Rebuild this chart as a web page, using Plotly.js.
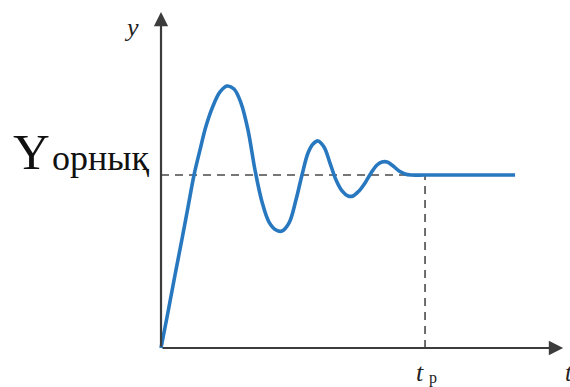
<!DOCTYPE html>
<html>
<head>
<meta charset="utf-8">
<script src="https://cdn.plot.ly/plotly-3.0.1.min.js"></script>
<style>
  html, body { margin: 0; padding: 0; background: #ffffff; }
  #chart { width: 570px; height: 387px; }
</style>
</head>
<body>
<div id="chart"></div>
<script>
// Step response of an under-damped system: time samples and output level
const timePts = [0, 0.265, 0.53, 0.795, 1.023, 1.25, 1.477, 1.705, 1.97, 2.235, 2.5, 2.765, 3.03, 3.295, 3.56, 3.826, 4.09, 4.356, 4.58, 4.85, 5.11, 5.34, 5.568, 5.758, 5.947, 6.174, 6.4, 6.63, 6.856, 7.083, 7.273, 7.5, 7.727, 7.955, 8.18, 8.37, 8.56, 8.79, 9.015, 9.24, 9.47, 10.0, 11.7, 13.41];
const outputPts = [0, 0.208, 0.422, 0.63, 0.815, 1.0, 1.145, 1.283, 1.399, 1.48, 1.514, 1.497, 1.416, 1.26, 1.029, 0.844, 0.728, 0.682, 0.676, 0.723, 0.855, 1.0, 1.127, 1.179, 1.197, 1.162, 1.069, 0.971, 0.908, 0.879, 0.879, 0.908, 0.954, 1.012, 1.058, 1.075, 1.075, 1.052, 1.023, 1.006, 1.0, 1.0, 1.0, 1.0];

// Steady-state level and settling time
const steadyLevel = 1.0;
const settlingTime = 10.0;

// Axis extents (arrow tips)
const tAxisEnd = 15.23;
const yAxisEnd = 1.942;

// Label texts
const yAxisLabel = '<i>y</i>';
const tAxisLabel = '<i>t</i>';
const steadySymbol = 'Y';
const steadySub = 'орнық';
const settleSymbol = '<i>t</i>';
const settleSub = 'р';

const axisColor = '#3c3c3c';
const dashColor = '#4a4a4a';
const serif = "'Liberation Serif', 'Times New Roman', serif";

const curve = {
  x: timePts,
  y: outputPts,
  type: 'scatter',
  mode: 'lines',
  line: { color: '#2878c0', width: 3.6, shape: 'spline', smoothing: 1.0 },
  hoverinfo: 'skip',
  showlegend: false
};

const layout = {
  width: 570,
  height: 387,
  margin: { l: 0, r: 0, t: 0, b: 0 },
  paper_bgcolor: '#ffffff',
  plot_bgcolor: '#ffffff',
  showlegend: false,
  xaxis: {
    range: [-6.098, 15.49],
    visible: false, showgrid: false, zeroline: false, fixedrange: true
  },
  yaxis: {
    range: [-0.2254, 2.0116],
    visible: false, showgrid: false, zeroline: false, fixedrange: true
  },
  shapes: [
    // steady-state level guide
    { type: 'line', layer: 'below', xref: 'x', yref: 'y',
      x0: 0, x1: settlingTime, y0: steadyLevel, y1: steadyLevel,
      line: { color: dashColor, width: 1.6, dash: '8px,6px' } },
    // settling time guide
    { type: 'line', layer: 'below', xref: 'x', yref: 'y',
      x0: settlingTime, x1: settlingTime, y0: 0, y1: steadyLevel,
      line: { color: dashColor, width: 1.6, dash: '8px,6px' } }
  ],
  annotations: [
    // horizontal axis with arrow
    { xref: 'x', yref: 'y', axref: 'x', ayref: 'y',
      x: tAxisEnd, y: 0, ax: 0, ay: 0, text: '',
      showarrow: true, arrowhead: 2, arrowsize: 1.3, arrowwidth: 2.2,
      arrowcolor: axisColor, standoff: 0, startstandoff: 0 },
    // vertical axis with arrow
    { xref: 'x', yref: 'y', axref: 'x', ayref: 'y',
      x: 0, y: yAxisEnd, ax: 0, ay: 0, text: '',
      showarrow: true, arrowhead: 2, arrowsize: 1.3, arrowwidth: 2.2,
      arrowcolor: axisColor, standoff: 0, startstandoff: 0 },
    // axis names
    { xref: 'x', yref: 'y', x: -1.1, y: 1.85, text: yAxisLabel,
      showarrow: false, xanchor: 'center', yanchor: 'middle',
      font: { family: serif, size: 26, color: '#222222' } },
    { xref: 'x', yref: 'y', x: 15.47, y: -0.139, text: tAxisLabel,
      showarrow: false, xanchor: 'center', yanchor: 'middle',
      font: { family: serif, size: 25, color: '#222222' } },
    // steady-state value label
    { xref: 'x', yref: 'y', x: -5.7, y: 1.133, text: steadySymbol,
      showarrow: false, xanchor: 'left', yanchor: 'middle',
      font: { family: serif, size: 51, color: '#111111' } },
    { xref: 'x', yref: 'y', x: -4.2, y: 1.1, text: steadySub,
      showarrow: false, xanchor: 'left', yanchor: 'middle',
      font: { family: serif, size: 36, color: '#111111' } },
    // settling time label
    { xref: 'x', yref: 'y', x: 9.8, y: -0.139, text: settleSymbol,
      showarrow: false, xanchor: 'center', yanchor: 'middle',
      font: { family: serif, size: 26, color: '#222222' } },
    { xref: 'x', yref: 'y', x: 10.3, y: -0.172, text: settleSub,
      showarrow: false, xanchor: 'center', yanchor: 'middle',
      font: { family: serif, size: 16, color: '#222222' } }
  ]
};

Plotly.newPlot('chart', [curve], layout, { staticPlot: true, displayModeBar: false });
</script>
</body>
</html>
